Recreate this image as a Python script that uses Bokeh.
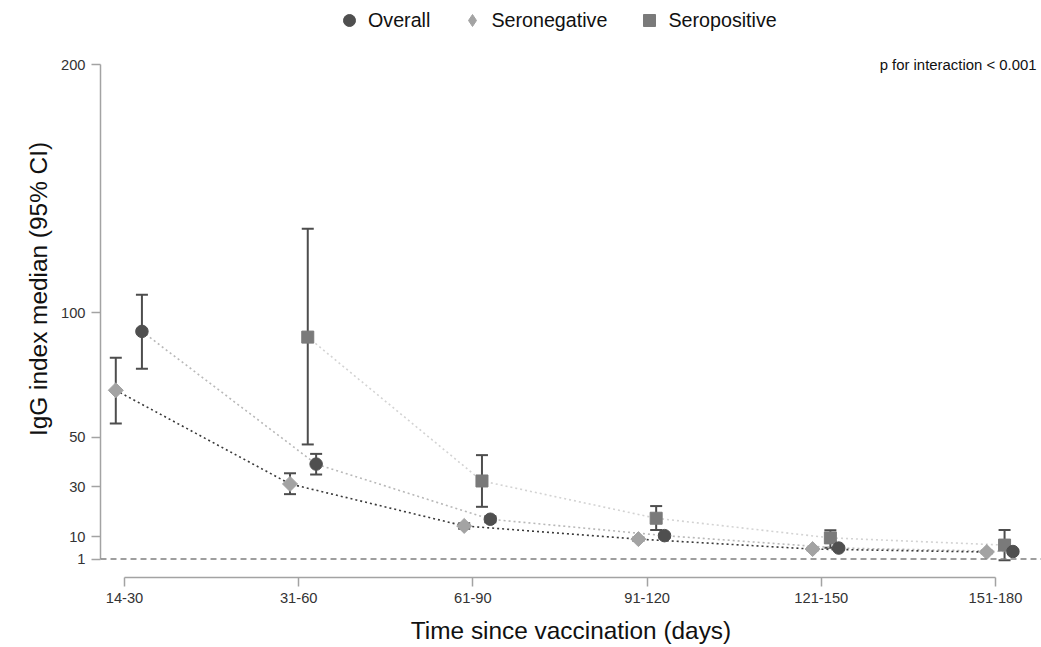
import numpy as np
from bokeh.plotting import figure
from bokeh.models import (ColumnDataSource, Whisker, TeeHead, Span, Label, Legend,
                          LegendItem, FixedTicker, Range1d)
from bokeh.embed import file_html
from bokeh.resources import INLINE

# ---------------- data ----------------
categories = ["14-30", "31-60", "61-90", "91-120", "121-150", "151-180"]
y_ticks = [1, 10, 30, 50, 100, 200]

overall_median = [92.6, 39.2, 17.0, 10.4, 5.4, 4.0]
overall_lower = [77.6, 35.0, 15.8, 9.6, 4.8, 3.4]
overall_upper = [107.3, 43.3, 18.2, 11.2, 6.0, 4.6]

seroneg_median = [68.9, 31.2, 14.3, 9.0, 5.0, 3.8]
seroneg_lower = [55.5, 27.1, 13.2, 8.3, 4.5, 3.3]
seroneg_upper = [82.0, 35.5, 15.4, 9.7, 5.5, 4.3]

seropos_categories = ["31-60", "61-90", "91-120", "121-150", "151-180"]
seropos_median = [90.3, 32.4, 17.4, 9.5, 6.6]
seropos_lower = [47.1, 22.0, 12.7, 5.5, 0.5]
seropos_upper = [133.9, 42.8, 22.3, 12.6, 12.7]

# ---------------- styling ----------------
FONT = "Liberation Sans"
AXIS_COL = "#a3a3a3"
ERR_COL = "#4d4d4d"
C_OVERALL = "#4f4f4f"
C_NEG = "#a3a3a3"
C_POS = "#7a7a7a"
L_OVERALL = "#b8b8b8"
L_NEG = "#3a3a3a"
L_POS = "#d3d3d3"

idx = {c: i for i, c in enumerate(categories)}


def xpos(cats, off):
    return [idx[c] + off for c in cats]


src_all = ColumnDataSource(dict(x=xpos(categories, 0.10), y=overall_median,
                                lower=overall_lower, upper=overall_upper))
src_neg = ColumnDataSource(dict(x=xpos(categories, -0.05), y=seroneg_median,
                                lower=seroneg_lower, upper=seroneg_upper))
src_pos = ColumnDataSource(dict(x=xpos(seropos_categories, 0.052), y=seropos_median,
                                lower=seropos_lower, upper=seropos_upper))

p = figure(width=1041, height=647,
           x_range=Range1d(-0.1378, 5.264), y_range=Range1d(-6.445, 225.76),
           output_backend="svg", toolbar_location=None,
           min_border_left=100, min_border_right=0, min_border_top=0, min_border_bottom=70)
p.outline_line_color = None
p.xgrid.visible = False
p.ygrid.visible = False
p.background_fill_color = "white"
p.border_fill_color = "white"

# reference line at 1
p.add_layout(Span(location=1, dimension="width", line_color="#7f7f7f",
                  line_dash="6 4", line_width=1.5))

# dotted trend lines
p.line("x", "y", source=src_pos, line_color=L_POS, line_dash="2 3", line_width=1.6)
p.line("x", "y", source=src_all, line_color=L_OVERALL, line_dash="2 3", line_width=1.6)
p.line("x", "y", source=src_neg, line_color=L_NEG, line_dash="2 3", line_width=1.6)

# markers
r_neg = p.scatter("x", "y", source=src_neg, marker="square", angle=np.pi / 4, size=10.6,
                  fill_color=C_NEG, line_color=C_NEG)
r_neg_leg = p.scatter("x", "y", source=src_neg, marker="diamond", size=13,
                      fill_color=C_NEG, line_color=C_NEG, visible=False)
r_pos = p.scatter("x", "y", source=src_pos, marker="square", size=12,
                  fill_color=C_POS, line_color=C_POS)
r_all = p.scatter("x", "y", source=src_all, marker="circle", size=12.5,
                  fill_color=C_OVERALL, line_color=C_OVERALL)

# error bars
for s in (src_neg, src_pos, src_all):
    p.add_layout(Whisker(source=s, base="x", upper="upper", lower="lower", dimension="height",
                         line_color=ERR_COL, line_width=2,
                         upper_head=TeeHead(size=12, line_color=ERR_COL, line_width=2),
                         lower_head=TeeHead(size=12, line_color=ERR_COL, line_width=2)))

# axes
xa = p.xaxis[0]
xa.ticker = FixedTicker(ticks=list(range(len(categories))))
xa.major_label_overrides = {i: c for i, c in enumerate(categories)}
xa.bounds = (0, len(categories) - 1)
xa.axis_label = "Time since vaccination (days)"

ya = p.yaxis[0]
ya.ticker = FixedTicker(ticks=y_ticks)
ya.bounds = (y_ticks[0], y_ticks[-1])
ya.axis_label = "IgG index median (95% CI)"

for ax in (xa, ya):
    ax.axis_line_color = AXIS_COL
    ax.axis_line_width = 1.5
    ax.major_tick_line_color = AXIS_COL
    ax.major_tick_line_width = 1.5
    ax.major_tick_out = 9
    ax.major_tick_in = 0
    ax.minor_tick_line_color = None
    ax.major_label_text_font = FONT
    ax.major_label_text_font_size = "14.7px"
    ax.major_label_text_color = "#333333"
    ax.axis_label_text_font = FONT
    ax.axis_label_text_font_size = "24.4px"
    ax.axis_label_text_font_style = "normal"
    ax.axis_label_text_color = "#111111"
xa.major_label_standoff = 6
ya.major_label_standoff = 6
xa.axis_label_standoff = 11
ya.axis_label_standoff = 6

# p-value annotation
p.add_layout(Label(x=5.264, y=200, x_offset=-5, text="p for interaction < 0.001",
                   text_align="right", text_baseline="middle",
                   text_font=FONT, text_font_size="14.9px", text_color="#111111"))

# legend
legend = Legend(items=[LegendItem(label="Overall", renderers=[r_all]),
                       LegendItem(label="Seronegative", renderers=[r_neg_leg]),
                       LegendItem(label="Seropositive", renderers=[r_pos])],
                orientation="horizontal", location=(233, 542),
                glyph_width=32, glyph_height=30, label_height=30, label_standoff=3,
                spacing=26, padding=0, margin=0,
                border_line_color=None, background_fill_alpha=0,
                label_text_font=FONT, label_text_font_size="19.7px",
                label_text_color="#111111")
p.add_layout(legend)

open("out.html", "w").write(file_html(p, INLINE))
